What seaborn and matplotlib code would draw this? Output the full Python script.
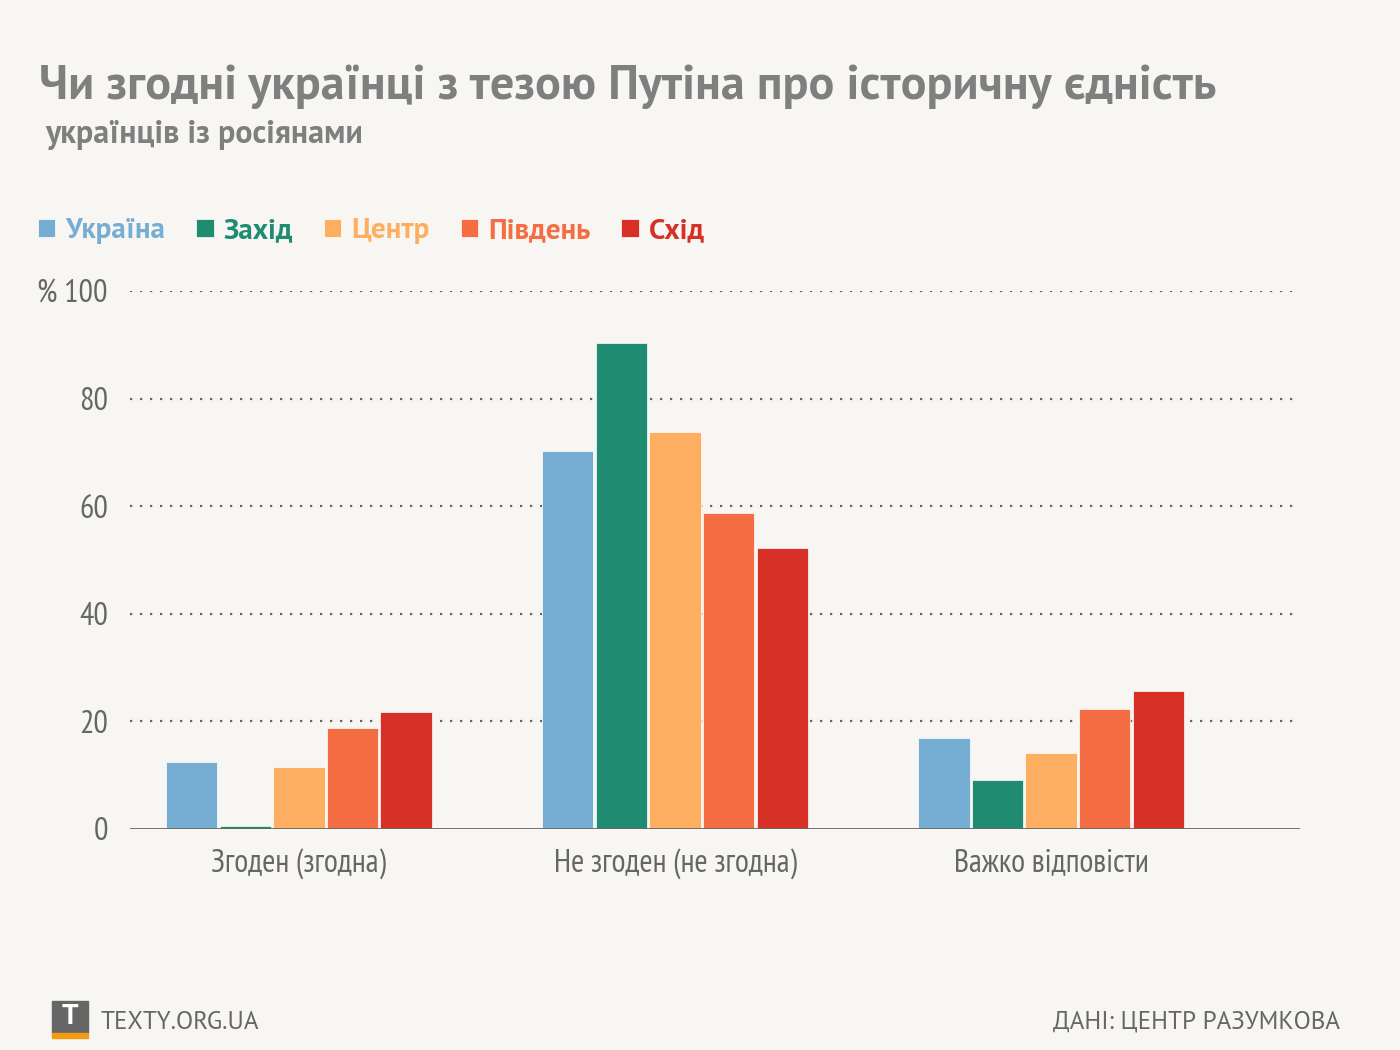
import pandas as pd
import matplotlib.pyplot as plt
import matplotlib.patches as mpatches
import seaborn as sns

# answers and regions
answers = ["Згоден (згодна)", "Не згоден (не згодна)", "Важко відповісти"]
regions = ["Україна", "Захід", "Центр", "Південь", "Схід"]

# percent values per region, in the order of answers
ukraine = [12.5, 70.3, 16.9]
zakhid = [0.5, 90.3, 9.1]
tsentr = [11.6, 73.8, 14.1]
pivden = [18.7, 58.7, 22.3]
skhid = [21.7, 52.2, 25.7]

colors = ["#76add3", "#1f8c72", "#fdae61", "#f46d43", "#d73027"]
y_ticks = [0, 20, 40, 60, 80, 100]
y_labels = ["0", "20", "40", "60", "80", "% 100"]

bg = "#f7f6f2"
grey = "#7f7f7f"
dark = "#666666"

series = [ukraine, zakhid, tsentr, pivden, skhid]
rows = []
for reg, vals in zip(regions, series):
    for ans, v in zip(answers, vals):
        rows.append({"answer": ans, "region": reg, "value": v})
df = pd.DataFrame(rows)

sns.set_theme(style="white")
narrow = ["PT Sans Narrow", "DejaVu Sans"]
wide = ["PT Sans", "DejaVu Sans"]
plt.rcParams["font.family"] = narrow

fig = plt.figure(figsize=(14, 10.5), dpi=100, facecolor=bg)
ax = fig.add_axes([0.0929, 0.2105, 0.8357, 0.5124], facecolor=bg)

sns.barplot(data=df, x="answer", y="value", hue="region", order=answers,
            hue_order=regions, palette=colors, width=0.713, gap=0.04,
            edgecolor="white", linewidth=0.5, saturation=1, ax=ax)

ax.set_xlim(-0.449, 2.662)
ax.set_ylim(0, 100)
ax.set_yticks(y_ticks)
ax.set_yticklabels(y_labels, fontsize=23, color=dark)
ax.tick_params(axis="x", labelsize=23, labelcolor=dark, length=0, pad=14)
ax.tick_params(axis="y", length=0, pad=16)
ax.set_xlabel("")
ax.set_ylabel("")
for t in y_ticks[1:]:
    ax.axhline(t, color="#666666", lw=1.6, ls=(0, (1, 3.5)), zorder=0)
ax.axhline(0, color="#666666", lw=2, zorder=3)
for s in ax.spines.values():
    s.set_visible(False)

handles, labels = ax.get_legend_handles_labels()
ax.get_legend().remove()
fig.legend(handles, labels, loc="upper left", bbox_to_anchor=(0.027, 0.792),
           ncol=5, frameon=False, labelcolor=colors,
           prop={"family": wide, "size": 21, "weight": "bold"},
           borderpad=0, borderaxespad=0,
           handlelength=0.6, handleheight=0.6, handletextpad=0.35,
           columnspacing=1.05)

fig.text(0.028, 0.906, "Чи згодні українці з тезою Путіна про історичну єдність",
         fontsize=34.6, fontweight="bold", color=grey, family=wide)
fig.text(0.032, 0.864, "українців із росіянами", fontsize=23,
         fontweight="bold", color=grey, family=wide)

# footer
fig.patches.append(mpatches.Rectangle((0.0371, 0.0162), 0.0257, 0.0305,
                                      transform=fig.transFigure,
                                      color="#666666"))
fig.patches.append(mpatches.Rectangle((0.0371, 0.0114), 0.0257, 0.0048,
                                      transform=fig.transFigure,
                                      color="#f39c12"))
fig.text(0.0499, 0.0314, "T", fontsize=21, fontweight="bold", color="white",
         ha="center", va="center", family=wide)
fig.text(0.072, 0.0266, "TEXTY.ORG.UA", fontsize=18, color="#666666",
         va="center", family=wide)
fig.text(0.957, 0.0266, "ДАНІ: ЦЕНТР РАЗУМКОВА", fontsize=18,
         color="#666666", va="center", ha="right", family=wide)

fig.savefig("out.png", dpi=100, facecolor=bg)
